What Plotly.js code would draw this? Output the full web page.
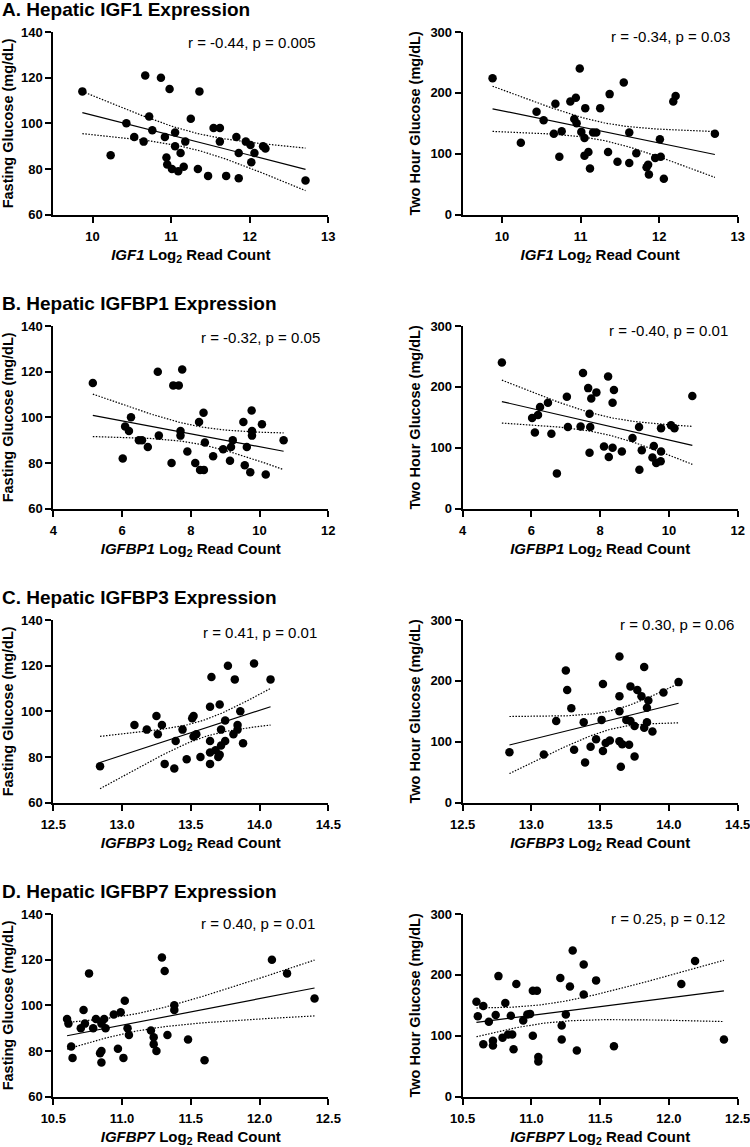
<!DOCTYPE html>
<html><head><meta charset="utf-8">
<script src="https://cdn.plot.ly/plotly-3.0.1.min.js"></script>
<style>html,body{margin:0;padding:0;background:#fff}#chart{width:750px;height:1147px}</style>
</head><body><div id="chart"></div>
<script>
// ---------------- DATA ----------------
const panelTitles = ["A. Hepatic IGF1 Expression","B. Hepatic IGFBP1 Expression","C. Hepatic IGFBP3 Expression","D. Hepatic IGFBP7 Expression"];
const genes = ["IGF1","IGFBP1","IGFBP3","IGFBP7"];
const yLabels = ["Fasting Glucose (mg/dL)","Two Hour Glucose (mg/dL)"];
const statsText = [
  ["r = -0.44, p = 0.005","r = -0.34, p = 0.03"],
  ["r = -0.32, p = 0.05","r = -0.40, p = 0.01"],
  ["r = 0.41, p = 0.01","r = 0.30, p = 0.06"],
  ["r = 0.40, p = 0.01","r = 0.25, p = 0.12"]
];
const xTickVals = [[10,11,12,13],[4,6,8,10,12],[12.5,13,13.5,14,14.5],[10.5,11,11.5,12,12.5]];
const xTickText = [["10","11","12","13"],["4","6","8","10","12"],["12.5","13.0","13.5","14.0","14.5"],["10.5","11.0","11.5","12.0","12.5"]];
const xRanges = [[9.5,13],[4,12],[12.5,14.5],[10.5,12.5]];
const fastingTicks = [60,80,100,120,140];
const twoHourTicks = [0,100,200,300];
const fastingRange = [60,140];
const twoHourRange = [0,300];

// IGF1
const igf1_fast_x = [9.87,10.67,10.87,10.98,11.36,10.72,10.43,11.25,11.54,11.62,10.76,11.05,10.53,10.92,11.83,10.65,11.18,11.62,11.95,11.05,12.01,12.17,12.20,10.23,11.12,11.86,12.06,10.94,12.02,10.95,11.16,11.01,11.09,11.34,11.47,11.70,11.86,12.71];
const igf1_fast_y = [114,121,120,115,114,103,100,102,98,98,97,96,94,94,94,92,92,92,92,90,90.5,90,89,86,87,87,87,85,83,82,81,80,79,80,77,77,76,75];
const igf1_2h_x = [9.88,10.99,11.55,11.37,12.21,12.18,10.94,10.87,10.68,11.06,11.25,10.44,10.53,10.92,10.95,10.66,10.76,11.01,11.16,11.20,11.62,12.71,11.05,12.01,10.24,11.35,11.71,11.10,11.05,10.73,11.47,11.62,11.95,12.02,11.84,11.86,11.12,11.87,12.06];
const igf1_2h_y = [224,240,217,198,195,186,192,186,182,175,175,169,155,157,150,133,137,136,135,135,135,133,126,124,118,103,101,103,97,95,87,85,93,95,78,82,76,66,59];
// IGFBP1
const igfbp1_fast_x = [5.15,7.04,7.75,7.49,7.65,8.37,9.77,6.26,8.24,9.53,10.07,6.09,6.20,7.70,9.78,7.70,7.07,9.78,6.49,6.58,9.22,10.70,8.41,6.75,8.94,9.17,9.63,7.90,8.65,6.02,9.14,7.44,8.13,9.57,8.27,8.38,9.73,10.18];
const igfbp1_fast_y = [115,120,121,114,114,102,103,100,98,98,97,96,94,94,94,92,92,92,90,90,90,90,89,87,86,87,87,85,83,82,81,80,80,79,77,77,76,75];
const igfbp1_2h_x = [5.14,7.50,8.23,7.65,7.89,8.40,7.74,8.36,7.03,6.48,6.25,6.19,6.02,7.69,7.06,7.43,7.71,9.13,9.77,10.06,10.16,10.68,6.10,6.58,8.94,8.11,8.36,9.56,9.21,8.63,7.69,9.77,8.25,9.52,9.76,9.63,9.14,6.74];
const igfbp1_2h_y = [240,223,217,198,191,195,181,174,184,174,167,154,149,156,134,135,134,134,132,137,132,185,125,123,116,102,100,103,96,94,92,94,85,84,78,75,64,58];
// IGFBP3
const igfbp3_fast_x = [13.96,13.77,13.65,13.82,14.08,13.64,13.71,13.86,13.25,13.52,13.51,13.75,13.09,13.29,13.84,13.18,13.44,13.72,13.84,13.26,13.54,13.81,13.52,13.39,13.64,13.75,13.88,13.72,13.68,13.64,13.71,13.70,13.47,13.57,13.31,13.64,12.84,13.38];
const igfbp3_fast_y = [121,120,115,114,114,102,103,100,98,98,97,96,94,94,94,92,92,92,92,90,90,90,89,87,87,87,86,85,83,82,81,80,79,80,77,77,76,75];
const igfbp3_2h_x = [13.64,13.25,13.82,13.52,14.07,13.26,13.72,13.77,13.96,13.80,13.85,13.64,13.29,13.84,13.64,13.18,13.38,13.51,13.69,13.72,13.75,13.84,13.82,13.88,13.47,13.57,13.54,13.64,13.66,13.71,13.43,12.84,13.09,13.31,13.52,13.75,13.39,13.65];
const igfbp3_2h_y = [240,217,223,195,198,185,191,185,181,175,168,175,155,156,150,134,132,136,136,134,126,132,123,117,104,102,98,101,96,95,92,83,79,87,85,76,66,59];
// IGFBP7
const igfbp7_fast_x = [11.29,12.09,11.31,12.20,10.76,12.40,11.38,11.38,11.02,10.72,10.99,10.94,10.60,10.61,10.81,10.87,10.73,10.70,10.79,10.85,10.88,11.04,11.05,11.21,11.23,11.33,11.48,11.23,10.63,10.64,10.84,10.85,10.85,10.97,11.01,11.25,11.60];
const igfbp7_fast_y = [121,120,115,114,114,103,100,98,102,98,97,96,94,92,94,94,92,90,90,92,90,90,87,89,86,87,85,83,82,77,79,80,75,81,77,80,76];
const igfbp7_2h_x = [11.30,12.19,11.38,10.76,11.21,11.47,10.89,11.28,12.09,11.01,11.04,11.38,10.60,10.65,10.81,10.61,10.74,10.85,10.97,10.99,11.25,10.69,10.94,11.22,10.79,10.83,10.86,11.01,11.22,12.40,10.65,10.72,10.72,11.60,10.87,11.33,11.05,11.05];
const igfbp7_2h_y = [240,223,217,198,195,191,185,181,185,174,174,168,156,149,154,132,134,133,135,136,135,123,125,117,97,102,102,100,94,94,86,92,84,83,78,76,65,58];

const panelData = [
  [[igf1_fast_x, igf1_fast_y],[igf1_2h_x, igf1_2h_y]],
  [[igfbp1_fast_x, igfbp1_fast_y],[igfbp1_2h_x, igfbp1_2h_y]],
  [[igfbp3_fast_x, igfbp3_fast_y],[igfbp3_2h_x, igfbp3_2h_y]],
  [[igfbp7_fast_x, igfbp7_fast_y],[igfbp7_2h_x, igfbp7_2h_y]]
];

// ---------------- LAYOUT GEOMETRY (px) ----------------
const W = 750, H = 1147;
const colX = [[53.3,328.3],[462.7,737.7]];
const rowTop = [32,326,620,914];
const rowH = 182.7;
const titleY = [9,303,597,891];
const statsPos = [[[318,43],[732,36]],[[322,338],[730,330]],[[319,632],[736,624]],[[317,923],[727,918]]];
const FONT = "Liberation Sans, Arial, Helvetica, sans-serif";

function tQuant(df){
  const z = 1.959964;
  return z + (z**3+z)/(4*df) + (5*z**5+16*z**3+3*z)/(96*df*df) + (3*z**7+19*z**5+17*z**3-15*z)/(384*df**3);
}
function fit(x,y){
  const n = x.length;
  const mx = x.reduce((a,b)=>a+b,0)/n, my = y.reduce((a,b)=>a+b,0)/n;
  let sxx=0, sxy=0;
  for(let i=0;i<n;i++){ sxx+=(x[i]-mx)**2; sxy+=(x[i]-mx)*(y[i]-my); }
  const b = sxy/sxx, a = my - b*mx;
  let sse=0; for(let i=0;i<n;i++){ sse += (y[i]-(a+b*x[i]))**2; }
  const s = Math.sqrt(sse/(n-2)), t = tQuant(n-2);
  const xmin = Math.min(...x), xmax = Math.max(...x);
  const gx=[], gy=[], up=[], lo=[];
  const N=80;
  for(let k=0;k<=N;k++){
    const xv = xmin + (xmax-xmin)*k/N;
    const yv = a + b*xv;
    const se = s*Math.sqrt(1/n + (xv-mx)**2/sxx);
    gx.push(xv); gy.push(yv); up.push(yv+t*se); lo.push(yv-t*se);
  }
  return {gx,gy,up,lo};
}

const traces = [];
const layout = {
  width: W, height: H,
  margin: {l:0,r:0,t:0,b:0},
  paper_bgcolor: "#fff", plot_bgcolor: "#fff",
  showlegend: false,
  font: {family: FONT, color: "#000"},
  annotations: []
};

for(let r=0;r<4;r++){
  layout.annotations.push({
    xref:"paper", yref:"paper", x:0, y:1-titleY[r]/H, xanchor:"left", yanchor:"middle",
    text:"<b>"+panelTitles[r]+"</b>", showarrow:false, font:{family:FONT,size:19,color:"#000"}
  });
  for(let c=0;c<2;c++){
    const k = r*2+c+1;
    const xa = "x"+(k>1?k:""), ya = "y"+(k>1?k:"");
    const [xs, ys] = panelData[r][c];
    const f = fit(xs, ys);
    const dotted = {color:"#000", width:1.2, dash:"1.5px,1.5px"};
    traces.push({x:f.gx, y:f.up, xaxis:xa, yaxis:ya, mode:"lines", line:dotted, hoverinfo:"skip"});
    traces.push({x:f.gx, y:f.lo, xaxis:xa, yaxis:ya, mode:"lines", line:dotted, hoverinfo:"skip"});
    traces.push({x:f.gx, y:f.gy, xaxis:xa, yaxis:ya, mode:"lines", line:{color:"#000", width:1.2}, hoverinfo:"skip"});
    traces.push({x:xs, y:ys, xaxis:xa, yaxis:ya, mode:"markers", cliponaxis:false,
      marker:{color:"#000", size:8.5, line:{width:0}}});

    const x0 = colX[c][0]/W, x1 = colX[c][1]/W;
    const yTop = 1 - rowTop[r]/H, yBot = 1 - (rowTop[r]+rowH)/H;
    const axisCommon = {
      showline:true, linewidth:2, linecolor:"#000", ticks:"outside", ticklen:6, tickwidth:2, tickcolor:"#000",
      showgrid:false, zeroline:false, fixedrange:true, automargin:false, ticklabeloverflow:"allow",
      tickfont:{family:FONT, size:13, color:"#000", weight:"bold"}
    };
    layout["xaxis"+(k>1?k:"")] = Object.assign({}, axisCommon, {
      domain:[x0,x1], anchor:ya, range:xRanges[r], tickmode:"array",
      tickvals:xTickVals[r], ticktext:xTickText[r], ticklabelstandoff:3,
      title:{text:"<b><i>"+genes[r]+"</i> Log<sub>2</sub> Read Count</b>", standoff:6, font:{family:FONT,size:15,color:"#000"}}
    });
    layout["yaxis"+(k>1?k:"")] = Object.assign({}, axisCommon, {
      domain:[yBot,yTop], anchor:xa, range: c===0?fastingRange:twoHourRange, tickmode:"array",
      tickvals: c===0?fastingTicks:twoHourTicks, ticktext:(c===0?fastingTicks:twoHourTicks).map(String),
      title:{text:"<b>"+yLabels[c]+"</b>", standoff:6, font:{family:FONT,size:14.5,color:"#000"}}
    });
    const sp = statsPos[r][c];
    layout.annotations.push({
      xref:"paper", yref:"paper", x:sp[0]/W, y:1-sp[1]/H, xanchor:"right", yanchor:"middle",
      text:statsText[r][c], showarrow:false, font:{family:FONT,size:15,color:"#000"}
    });
  }
}

Plotly.newPlot("chart", traces, layout, {staticPlot:true, displayModeBar:false});
</script>
</body></html>
